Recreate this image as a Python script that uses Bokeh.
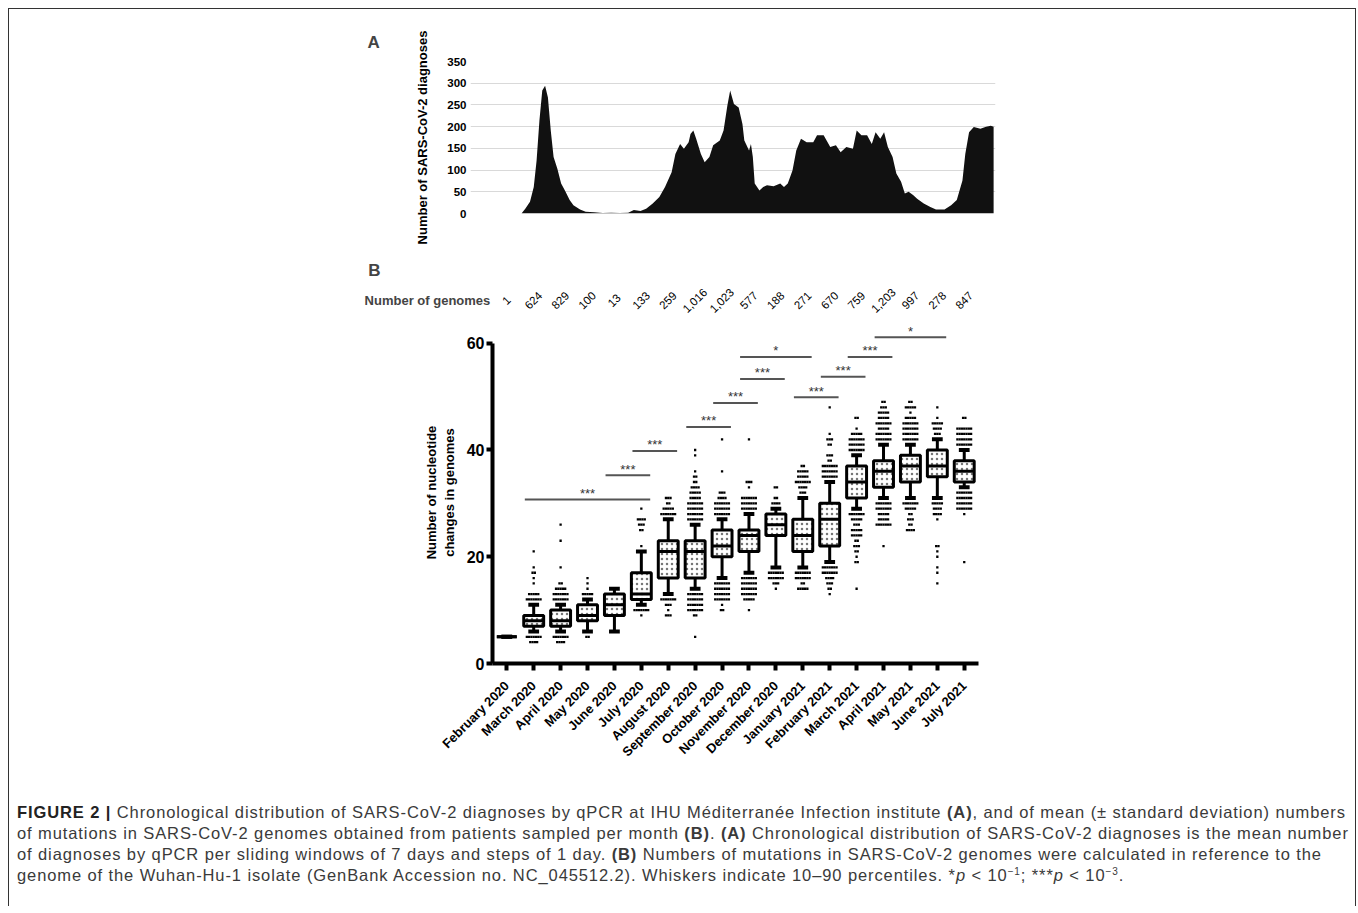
import numpy as np
from math import pi
from bokeh.plotting import figure
from bokeh.models import ColumnDataSource, FixedTicker, Label, LabelSet, Div, Range1d
from bokeh.layouts import column
from bokeh.embed import file_html
from bokeh.resources import INLINE
from bokeh.core.properties import value

FONT = "Liberation Sans"

# ---------------- Panel A : daily diagnoses (7-day sliding mean) ----------------
diag_day = [0, 4, 9, 13, 16, 19, 22, 25, 28, 31,
            34, 38, 42, 46, 51, 55, 62, 68, 77, 86,
            95, 104, 113, 119, 126, 132, 139, 146, 152, 159,
            163, 168, 172, 177, 179, 182, 185, 190, 194, 199,
            203, 210, 214, 218, 221, 225, 230, 234, 236, 241,
            243, 245, 247, 252, 256, 260, 267, 274, 278, 282,
            287, 291, 296, 302, 309, 313, 320, 327, 333, 338,
            344, 351, 355, 360, 366, 371, 375, 380, 384, 388,
            393, 397, 402, 406, 410, 415, 419, 426, 433, 439,
            448, 455, 461, 467, 470, 474, 479, 486, 492, 497,
            500]
diag_val = [0, 11, 27, 61, 122, 214, 283, 294, 267, 191,
            130, 103, 69, 53, 31, 19, 9, 4, 3, 1,
            2, 1, 2, 8, 6, 11, 23, 38, 61, 95,
            137, 160, 149, 164, 183, 191, 172, 137, 118, 130,
            157, 168, 191, 248, 283, 252, 244, 206, 168, 145,
            160, 130, 69, 53, 61, 65, 63, 69, 61, 69,
            99, 145, 172, 164, 164, 180, 180, 153, 157, 141,
            153, 149, 191, 180, 180, 160, 187, 172, 187, 153,
            130, 92, 73, 46, 50, 42, 34, 23, 15, 9,
            9, 19, 31, 76, 137, 187, 199, 195, 200, 202,
            200]
diag_ticks = [0, 50, 100, 150, 200, 250, 300, 350]

# ---------------- Panel B : mutations per month ----------------
months = ["February 2020", "March 2020", "April 2020", "May 2020", "June 2020",
          "July 2020", "August 2020", "September 2020", "October 2020",
          "November 2020", "December 2020", "January 2021", "February 2021",
          "March 2021", "April 2021", "May 2021", "June 2021", "July 2021"]
genomes = ["1", "624", "829", "100", "13", "133", "259", "1,016", "1,023", "577",
           "188", "271", "670", "759", "1,203", "997", "278", "847"]
median = [5, 8, 8, 9, 11, 13, 21, 21, 22, 24, 26, 24, 27, 34, 36, 37, 37, 36]
q1 = [5, 7, 7, 8, 9, 12, 16, 16, 20, 21, 24, 21, 22, 31, 33, 34, 35, 34]
q3 = [5, 9, 10, 11, 13, 17, 23, 23, 25, 25, 28, 27, 30, 37, 38, 39, 40, 38]
p10 = [5, 6, 6, 6, 6, 11, 13, 14, 16, 17, 18, 18, 19, 29, 31, 31, 31, 33]
p90 = [5, 11, 11, 12, 14, 21, 27, 26, 27, 28, 29, 31, 34, 39, 41, 41, 42, 40]

# values outside the 10-90 whiskers, with how many genomes share each value
outlier_values = [
    [],
    [12, 13, 15, 16, 17, 18, 21, 5, 4],
    [12, 13, 14, 15, 18, 23, 26, 5, 4],
    [13, 14, 15, 16, 5],
    [],
    [22, 25, 26, 27, 29, 10, 9],
    [28, 29, 30, 31, 12, 11, 10, 9],
    [27, 28, 29, 30, 31, 32, 33, 34, 35, 36, 39, 40, 13, 12, 11, 10, 9, 5],
    [28, 29, 30, 31, 32, 36, 42, 15, 14, 13, 12, 11, 10],
    [29, 30, 31, 33, 34, 42, 16, 15, 14, 13, 12, 10],
    [30, 31, 33, 17, 16, 15, 14],
    [32, 33, 34, 35, 36, 37, 17, 16, 15, 14],
    [35, 36, 37, 38, 39, 41, 42, 43, 48, 18, 17, 16, 15, 14, 13],
    [40, 41, 42, 43, 44, 46, 28, 27, 26, 25, 24, 23, 22, 21, 20, 19, 14],
    [42, 43, 44, 45, 46, 47, 48, 49, 30, 29, 28, 27, 26, 22],
    [42, 43, 44, 45, 46, 47, 48, 49, 30, 29, 28, 27, 26, 25],
    [43, 44, 45, 46, 48, 30, 29, 28, 27, 22, 21, 20, 18, 17, 15],
    [41, 42, 43, 44, 46, 32, 31, 30, 29, 28, 19],
]
outlier_counts = [
    [],
    [7, 5, 1, 1, 2, 1, 1, 7, 4],
    [7, 7, 5, 2, 1, 1, 1, 7, 4],
    [5, 1, 1, 1, 2],
    [],
    [1, 2, 3, 4, 1, 7, 1],
    [7, 5, 2, 3, 7, 3, 1, 3],
    [7, 7, 7, 7, 5, 5, 4, 2, 2, 1, 1, 1, 7, 7, 7, 7, 2, 1],
    [7, 7, 7, 4, 3, 1, 1, 7, 7, 7, 7, 1, 2],
    [7, 7, 7, 1, 3, 1, 7, 7, 7, 7, 5, 1],
    [4, 2, 2, 7, 7, 3, 1],
    [3, 4, 7, 5, 5, 2, 7, 7, 2, 5],
    [7, 7, 7, 2, 3, 2, 3, 1, 1, 7, 7, 4, 3, 2, 1],
    [7, 7, 7, 5, 1, 2, 7, 5, 3, 5, 5, 2, 3, 2, 1, 2, 1],
    [7, 7, 5, 7, 5, 5, 3, 2, 7, 7, 5, 5, 7, 1],
    [7, 7, 7, 7, 5, 1, 5, 2, 7, 5, 2, 3, 2, 4],
    [3, 4, 5, 1, 1, 5, 4, 4, 1, 2, 1, 1, 1, 1, 1],
    [7, 7, 7, 7, 2, 7, 7, 7, 7, 1, 1],
]

# significance comparisons (month index from -> to), bar level, label
sig_from = [1, 4, 5, 7, 8, 9, 9, 11, 12, 13, 14]
sig_to = [5, 5, 6, 8, 9, 10, 11, 12, 13, 14, 16]
sig_level = [30.7, 35.25, 39.8, 44.3, 48.8, 53.3, 57.4, 49.9, 53.7, 57.4, 61.1]
sig_text = ["***", "***", "***", "***", "***", "***", "*", "***", "***", "***", "*"]


def no_align(fig):
    try:
        fig.frame_align = False
    except Exception:
        pass


# ======================= Panel A figure =======================
pa = figure(frame_width=525, frame_height=152,
            x_range=Range1d(-54, 502), y_range=Range1d(0, 350),
            min_border_left=461, min_border_right=10, min_border_top=52, min_border_bottom=32,
            toolbar_location=None, output_backend="svg")
no_align(pa)
pa.title.text = "A"
pa.title.align = "left"
pa.title.offset = -103
pa.title.standoff = 20
pa.title.text_font = FONT
pa.title.text_font_size = "17px"
pa.title.text_font_style = "bold"
pa.outline_line_color = None
pa.xaxis.visible = False
pa.xgrid.visible = False
pa.ygrid.ticker = FixedTicker(ticks=diag_ticks)
pa.ygrid.grid_line_color = "#d9d9d9"
pa.ygrid.grid_line_width = 1
ya = pa.yaxis[0]
ya.ticker = FixedTicker(ticks=diag_ticks)
ya.axis_line_color = None
ya.major_tick_line_color = None
ya.major_tick_out = 0
ya.major_tick_in = 0
ya.minor_tick_line_color = None
ya.minor_tick_out = 0
ya.major_label_text_font = FONT
ya.major_label_text_font_size = "11.5px"
ya.major_label_text_font_style = "bold"
ya.major_label_text_color = "black"
ya.major_label_standoff = 4
ya.axis_label = "Number of SARS-CoV-2 diagnoses"
ya.axis_label_text_font = FONT
ya.axis_label_text_font_size = "13px"
ya.axis_label_text_font_style = "bold"
ya.axis_label_text_color = "black"
ya.axis_label_standoff = 14
pa.varea(x=diag_day, y1=0, y2=diag_val, fill_color="#111111")

# ======================= Panel B header (label B + genome counts) =======================
xs = list(range(len(months)))
ph = figure(frame_width=618, frame_height=76,
            x_range=Range1d(-5.42, 17.53), y_range=Range1d(0, 76),
            min_border_left=351, min_border_right=20, min_border_top=0, min_border_bottom=0,
            toolbar_location=None, output_backend="svg")
no_align(ph)
ph.outline_line_color = None
ph.axis.visible = False
ph.grid.visible = False
gen_src = ColumnDataSource(dict(x=xs, y=[21.0] * len(xs), t=genomes))
ph.add_layout(LabelSet(x="x", y="y", text="t", source=gen_src, angle=pi / 4, text_font=value(FONT),
                       text_font_size=value("11.5px"), text_color="black", text_align="center",
                       text_baseline="middle"))
ph.add_layout(Label(x=-0.6, y=21.0, text="Number of genomes", text_font=FONT, text_font_size="13px",
                    text_font_style="bold", text_align="right", text_baseline="middle"))
ph.add_layout(Label(x=-5.13, y=51.0, text="B", text_font=FONT, text_font_size="17px",
                    text_font_style="bold", text_align="left", text_baseline="middle"))

# ======================= Panel B figure =======================
ymax_b = 342 / 5.338
pb = figure(frame_width=486, frame_height=342,
            x_range=Range1d(-0.531, 17.53), y_range=Range1d(0, ymax_b),
            min_border_left=483, min_border_right=20, min_border_top=0, min_border_bottom=115,
            toolbar_location=None, output_backend="svg")
no_align(pb)
pb.outline_line_color = None
pb.grid.visible = False

xa = pb.xaxis[0]
xa.ticker = FixedTicker(ticks=xs)
xa.major_label_overrides = {i: m for i, m in enumerate(months)}
xa.major_label_orientation = pi / 4
xa.major_label_text_font = FONT
xa.major_label_text_font_size = "13px"
xa.major_label_text_font_style = "bold"
xa.major_label_text_color = "black"
xa.major_label_standoff = 13
xa.axis_line_width = 4
xa.axis_line_color = "black"
xa.major_tick_line_width = 4
xa.major_tick_out = 7
xa.major_tick_in = 0
xa.minor_tick_line_color = None

yb = pb.yaxis[0]
yb.ticker = FixedTicker(ticks=[0, 20, 40, 60])
yb.bounds = (0, 60)
yb.axis_line_width = 4
yb.major_tick_line_width = 4
yb.major_tick_out = 6
yb.major_tick_in = 0
yb.minor_tick_line_color = None
yb.major_label_text_font = FONT
yb.major_label_text_font_size = "16px"
yb.major_label_text_font_style = "bold"
yb.major_label_text_color = "black"
yb.major_label_standoff = 2
yb.axis_label = "Number of nucleotide\nchanges in genomes"
yb.axis_label_text_font = FONT
yb.axis_label_text_font_size = "13px"
yb.axis_label_text_font_style = "bold"
yb.axis_label_text_color = "black"
yb.axis_label_standoff = 7

box_w = 0.74
cap_w = 0.4

# whiskers
pb.segment(x0=xs, y0=q3, x1=xs, y1=p90, line_width=3, line_color="black")
pb.segment(x0=xs, y0=q1, x1=xs, y1=p10, line_width=3, line_color="black")
# boxes
pb.vbar(x=xs, width=box_w, bottom=q1, top=q3, fill_color="white", line_color="black",
        line_width=3, hatch_pattern="dot", hatch_color="#777777", hatch_scale=5, hatch_weight=1)
# medians
pb.segment(x0=[x - box_w / 2 for x in xs], x1=[x + box_w / 2 for x in xs], y0=median, y1=median,
           line_width=3, line_color="black")
# caps
pb.segment(x0=[x - cap_w / 2 for x in xs], x1=[x + cap_w / 2 for x in xs], y0=p90, y1=p90,
           line_width=4, line_color="black")
pb.segment(x0=[x - cap_w / 2 for x in xs], x1=[x + cap_w / 2 for x in xs], y0=p10, y1=p10,
           line_width=4, line_color="black")

# outlier dots, spread horizontally when several genomes share a value
ox, oy = [], []
for m in xs:
    for v, c in zip(outlier_values[m], outlier_counts[m]):
        for j in range(c):
            ox.append(m + (j - (c - 1) / 2) * 0.085)
            oy.append(v)
pb.scatter(x=ox, y=oy, marker="square", size=2.3, fill_color="black", line_color=None)

# significance bars
ext = 0.33
pb.segment(x0=[a - ext for a in sig_from], x1=[b + ext for b in sig_to], y0=sig_level, y1=sig_level,
           line_width=2, line_color="#555555")
sig_src = ColumnDataSource(dict(x=[(a + b) / 2 for a, b in zip(sig_from, sig_to)],
                                y=[l + 0.3 for l in sig_level], t=sig_text))
pb.add_layout(LabelSet(x="x", y="y", text="t", source=sig_src, text_font=value(FONT),
                       text_font_size=value("13px"), text_color="#333333", text_align="center",
                       text_baseline="alphabetic"))

# ======================= caption =======================
sup = '<sup style="font-size:10px; line-height:0; vertical-align:6px">'
caption_html = (
    '<div style="margin-top:19px; padding-left:3px; font-family:\'Liberation Sans\', Arial, sans-serif; '
    'font-size:16.5px; letter-spacing:0.9px; line-height:21px; color:#3a3a3a; white-space:nowrap;">'
    '<b style="color:#222">FIGURE 2 |</b> Chronological distribution of SARS-CoV-2 diagnoses by qPCR at IHU '
    'Méditerranée Infection institute <b>(A)</b>, and of mean (± standard deviation) numbers<br>'
    'of mutations in SARS-CoV-2 genomes obtained from patients sampled per month <b>(B)</b>. <b>(A)</b> '
    'Chronological distribution of SARS-CoV-2 diagnoses is the mean number<br>'
    'of diagnoses by qPCR per sliding windows of 7 days and steps of 1 day. <b>(B)</b> Numbers of mutations '
    'in SARS-CoV-2 genomes were calculated in reference to the<br>'
    'genome of the Wuhan-Hu-1 isolate (GenBank Accession no. NC_045512.2). Whiskers indicate 10–90 '
    'percentiles. *<i>p</i> &lt; 10' + sup + '−1</sup>; ***<i>p</i> &lt; 10' + sup + '−3</sup>.'
    '</div>'
)
cap = Div(text=caption_html, width=1346, height=118)

page = column(pa, ph, pb, cap, spacing=0, width=1348,
              styles={"margin-left": "8px", "margin-top": "8px",
                      "border-top": "1px solid #333", "border-left": "1px solid #333",
                      "border-right": "1px solid #333", "background": "white"})

open("out.html", "w").write(file_html(page, INLINE))
